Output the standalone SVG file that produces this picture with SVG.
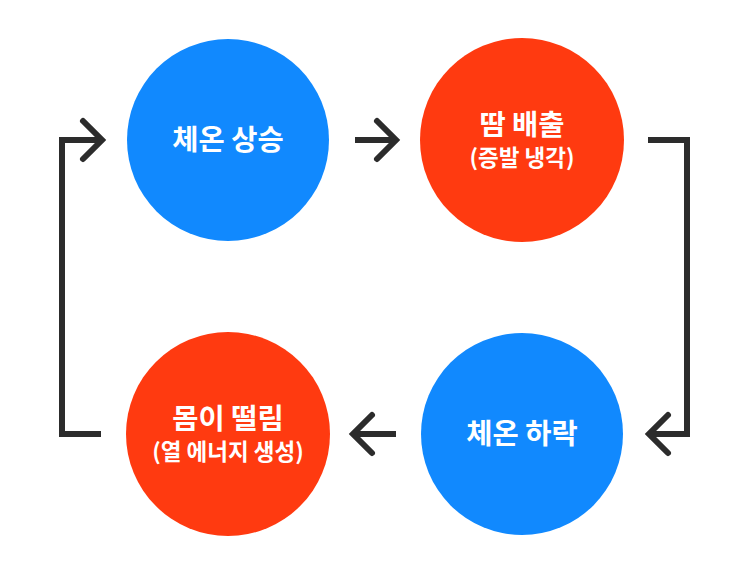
<svg xmlns="http://www.w3.org/2000/svg" width="750" height="572" viewBox="0 0 750 572">
<style>
.blue{fill:#1189FE}
.red{fill:#FF3A10}
.t{font-family:"Noto Sans CJK KR","Noto Sans",sans-serif;font-weight:bold;fill:#fff;text-anchor:middle}
.big{font-size:28.5px}
.small{font-size:22.5px}
.c{fill:none;stroke:#2c2c2c;stroke-width:6;stroke-linecap:round;stroke-linejoin:miter}
.b{fill:none;stroke:#2c2c2c;stroke-width:6;stroke-linecap:butt;stroke-linejoin:miter}
</style>
<rect width="750" height="572" fill="#fff"/>
<g id="connectors">
<path class="b" d="M101 434 H62 V140 H100"/>
<path class="c" d="M83 121 L102 140 L83 159"/>
<path class="b" d="M355 140 H396"/>
<path class="c" d="M377 121 L396 140 L377 159"/>
<path class="b" d="M648 140 H687 V434 H650"/>
<path class="c" d="M668 415 L649 434 L668 453"/>
<path class="b" d="M396 434 H354"/>
<path class="c" d="M372 415 L353 434 L372 453"/>
</g>
<g id="node-rise">
<circle class="blue" cx="228" cy="140" r="101"/>
<text class="t big" x="228" y="150">체온 상승</text>
</g>
<g id="node-sweat">
<circle class="red" cx="522" cy="140" r="102"/>
<text class="t big" x="522" y="135">땀 배출</text>
<text class="t small" x="522" y="166">(증발 냉각)</text>
</g>
<g id="node-fall">
<circle class="blue" cx="522" cy="434" r="101"/>
<text class="t big" x="522" y="444">체온 하락</text>
</g>
<g id="node-shiver">
<circle class="red" cx="228" cy="434" r="102"/>
<text class="t big" x="228" y="429">몸이 떨림</text>
<text class="t small" x="228" y="460">(열 에너지 생성)</text>
</g>
</svg>
